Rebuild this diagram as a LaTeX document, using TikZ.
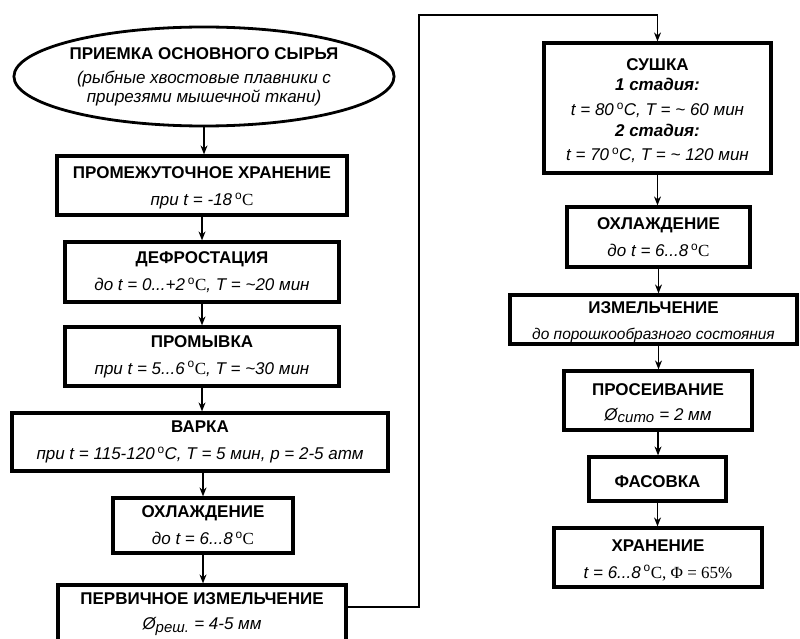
\documentclass[tikz,border=0pt]{standalone}
\usepackage{fontspec}
\setmainfont{Liberation Sans}
\newfontfamily\serifrm{Liberation Serif}
\usetikzlibrary{arrows.meta,shapes.geometric,calc}
\newcommand\dg{\textsuperscript{\upshape o}}
\newcommand\dC{\,\dg{\serifrm\upshape C}}
\newcommand\dCi{\,\dg C}
\newcommand\tit[1]{{\bfseries #1}}
\newcommand\stit[1]{{\rule{0pt}{17pt}\bfseries #1}}
\newcommand\subt[1]{{\itshape #1}}
\newcommand\subs[1]{{\fontsize{15.5}{18}\selectfont\itshape #1}}
\newcommand\stad[1]{{\bfseries\itshape #1}}
\newcommand\subx[1]{$_{\mbox{\itshape\fontsize{15}{15}\selectfont #1}}$}
\begin{document}
\begin{tikzpicture}[x=1pt,y=-1pt,
  box/.style={draw,line width=3.2pt,inner sep=0pt,align=center,rectangle,font=\fontsize{17}{20}\selectfont},
  conn/.style={line width=1.2pt,-{Stealth[length=9pt,width=7pt]}},
  wire/.style={line width=1.2pt}]
\clip (0,0) rectangle (800,639);
\fill[white] (0,0) rectangle (800,639);
% left column
\node[ellipse,draw,line width=2.8pt,minimum width=334pt,minimum height=99pt,inner sep=0pt,align=center,
  font=\fontsize{17}{19}\selectfont] (e) at (204,76.5)
  {\tit{ПРИЕМКА ОСНОВНОГО СЫРЬЯ}\\[5pt]\subt{(рыбные хвостовые плавники с}\\\subt{прирезями мышечной ткани)}};
\node[box,minimum width=290pt,minimum height=59pt] (b1) at (202,185.5)
  {\stit{ПРОМЕЖУТОЧНОЕ ХРАНЕНИЕ}\\[7pt]\subt{при t = -18\dC}};
\node[box,minimum width=274pt,minimum height=60pt] (b2) at (202,272)
  {\tit{ДЕФРОСТАЦИЯ}\\[7pt]\subt{до t = 0...+2\dC, T = \textasciitilde20 мин}};
\node[box,minimum width=274pt,minimum height=59pt] (b3) at (202,356.5)
  {\tit{ПРОМЫВКА}\\[7pt]\subt{при t = 5...6\dC, T = \textasciitilde30 мин}};
\node[box,minimum width=376pt,minimum height=58pt] (b4) at (200,442)
  {\tit{ВАРКА}\\[7pt]\subt{при t = 115-120\dCi, T = 5 мин, p = 2-5 атм}};
\node[box,minimum width=180pt,minimum height=55pt] (b5) at (203,525.5)
  {\tit{ОХЛАЖДЕНИЕ}\\[7pt]\subt{до t = 6...8\dC}};
\node[box,minimum width=288pt,minimum height=58pt] (b6) at (202,614)
  {\tit{ПЕРВИЧНОЕ ИЗМЕЛЬЧЕНИЕ}\\[5pt]\subt{Ø\subx{реш.} = 4-5 мм}};
% right column
\node[box,minimum width=227pt,minimum height=130pt] (s1) at (657.5,108)
  {{\rule{0pt}{18pt}\bfseries СУШКА}\\\stad{1 стадия:}\\[5pt]
   \subt{t = 80\dCi, T = \textasciitilde{} 60 мин}\\[1pt]\stad{2 стадия:}\\[4pt]
   \subt{t = 70\dCi, T = \textasciitilde{} 120 мин}};
\node[box,minimum width=183pt,minimum height=60pt] (s2) at (658.5,237)
  {\tit{ОХЛАЖДЕНИЕ}\\[7pt]\subt{до t = 6...8\dC}};
\node[box,minimum width=287pt,minimum height=49pt] (s3) at (653.5,319.5)
  {\stit{ИЗМЕЛЬЧЕНИЕ}\\[6pt]\subs{до порошкообразного состояния}};
\node[box,minimum width=188pt,minimum height=59pt] (s4) at (658,400.5)
  {\stit{ПРОСЕИВАНИЕ}\\[5pt]\subt{Ø\subx{сито} = 2 мм}};
\node[box,minimum width=137pt,minimum height=44pt] (s5) at (657.5,479)
  {\stit{ФАСОВКА}};
\node[box,minimum width=208pt,minimum height=59pt] (s6) at (658,557.5)
  {\stit{ХРАНЕНИЕ}\\[7pt]{\itshape t = 6...8\dC{\serifrm\upshape , Φ = 65\%}}};
% connectors
\draw[conn] (e.south) -- (e.south |- b1.north);
\draw[conn] (b1) -- (b2);
\draw[conn] (b2) -- (b3);
\draw[conn] (b3.south) -- (b3.south |- b4.north);
\draw[conn] (b4.south -| b5.north) -- (b5.north);
\draw[conn] (b5.south) -- (b5.south |- b6.north);
\coordinate (c1) at (419,607);
\coordinate (c2) at (419,15);
\draw[conn] (b6.east |- c1) -- (c1) -- (c2) -- (c2 -| s1.north) -- (s1.north);
\draw[conn] (s1.south) -- (s1.south |- s2.north);
\draw[conn] (s2.south) -- (s2.south |- s3.north);
\draw[conn] (s2.south |- s3.south) -- (s2.south |- s4.north);
\draw[conn] (s4.south) -- (s4.south |- s5.north);
\draw[conn] (s5.south) -- (s5.south |- s6.north);
\end{tikzpicture}
\end{document}
